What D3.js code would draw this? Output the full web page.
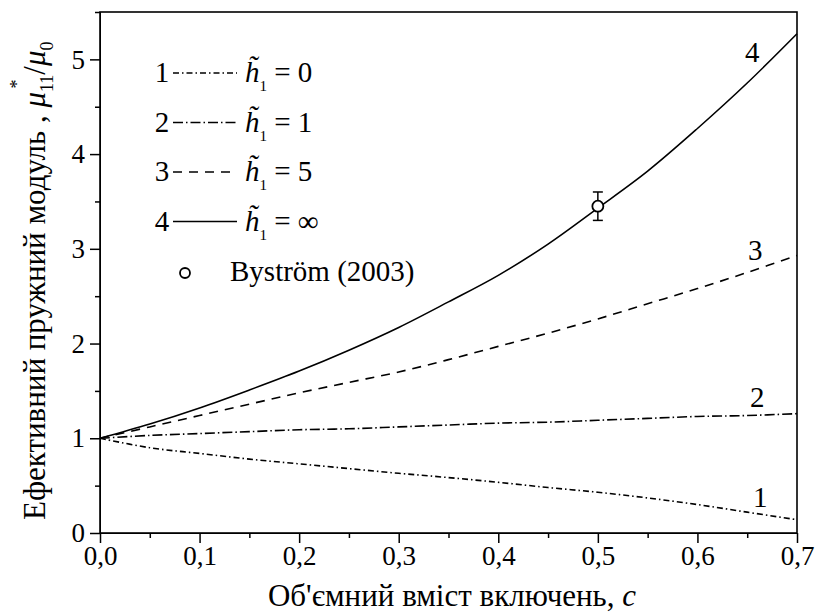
<!DOCTYPE html>
<html>
<head>
<meta charset="utf-8">
<script src="https://d3js.org/d3.v7.min.js"></script>
</head>
<body style="margin:0; background:#fff">
<svg width="816" height="614"></svg>
<script>
var svg = d3.select("svg");
var width = 816, height = 614;
var serif = "'Liberation Serif'";

// volume fraction c
var cValues = [0, 0.05, 0.1, 0.15, 0.2, 0.25, 0.3, 0.35, 0.4, 0.45, 0.5, 0.55, 0.6, 0.65, 0.7];
// mu11*/mu0 for each h1 value
var curve1 = [1.00, 0.90, 0.84, 0.78, 0.73, 0.68, 0.63, 0.585, 0.535, 0.48, 0.43, 0.37, 0.30, 0.22, 0.14];
var curve2 = [1.00, 1.03, 1.05, 1.07, 1.09, 1.10, 1.12, 1.14, 1.16, 1.17, 1.19, 1.21, 1.23, 1.24, 1.26];
var curve3 = [1.00, 1.12, 1.24, 1.36, 1.48, 1.59, 1.70, 1.83, 1.97, 2.11, 2.26, 2.42, 2.58, 2.75, 2.93];
var curve4 = [1.00, 1.15, 1.32, 1.51, 1.71, 1.93, 2.17, 2.44, 2.72, 3.05, 3.43, 3.82, 4.27, 4.75, 5.27];
var legendValues = ["0", "1", "5", "\u221E"];
// Byström (2003) experiment
var expC = [0.5];
var expVal = [3.45];
var expLow = [3.30];
var expHigh = [3.60];

var xTicks = [0, 0.1, 0.2, 0.3, 0.4, 0.5, 0.6, 0.7];
var xMinor = [0.05, 0.15, 0.25, 0.35, 0.45, 0.55, 0.65];
var yTicks = [0, 1, 2, 3, 4, 5];
var yMinor = [0.5, 1.5, 2.5, 3.5, 4.5, 5.5];

var margin = {left: 100, right: 19, top: 12, bottom: 81};
var x = d3.scaleLinear().domain([0, 0.7]).range([margin.left, width - margin.right]);
var y = d3.scaleLinear().domain([0, 5.5]).range([height - margin.bottom, margin.top]);

var fmt = function (d) { return d3.format(".1f")(d).replace(".", ","); };

// minor ticks
svg.append("g")
    .attr("transform", "translate(0," + y(0) + ")")
    .call(d3.axisBottom(x).tickValues(xMinor).tickSize(5).tickFormat(""))
    .call(function (g) { g.select(".domain").remove(); });
svg.append("g")
    .attr("transform", "translate(" + x(0) + ",0)")
    .call(d3.axisLeft(y).tickValues(yMinor).tickSize(5).tickFormat(""))
    .call(function (g) { g.select(".domain").remove(); });

svg.append("g")
    .attr("transform", "translate(0," + y(0) + ")")
    .call(d3.axisBottom(x).tickValues(xTicks).tickSize(10).tickPadding(3).tickFormat(fmt).tickSizeOuter(0));
svg.append("g")
    .attr("transform", "translate(" + x(0) + ",0)")
    .call(d3.axisLeft(y).tickValues(yTicks).tickSize(10).tickPadding(5).tickFormat(d3.format("d")).tickSizeOuter(0));

svg.selectAll(".tick text").attr("fill", "#000").style("font-size", "27px");
svg.selectAll(".tick line").attr("stroke-width", 1.5);

// frame
svg.append("rect")
    .attr("x", x(0)).attr("y", y(5.5))
    .attr("width", x(0.7) - x(0)).attr("height", y(0) - y(5.5))
    .attr("fill", "none").attr("stroke", "#000").attr("stroke-width", 1.6);

var series = [
    {id: "1", values: curve1, dash: "6,3,1.5,3"},
    {id: "2", values: curve2, dash: "10,3,1.5,3"},
    {id: "3", values: curve3, dash: "9,7"},
    {id: "4", values: curve4, dash: null}
];

var line = d3.line()
    .x(function (d, i) { return x(cValues[i]); })
    .y(function (d) { return y(d); })
    .curve(d3.curveCatmullRom);

svg.append("g")
    .selectAll("path")
    .data(series)
    .enter().append("path")
    .attr("d", function (d) { return line(d.values); })
    .attr("fill", "none")
    .attr("stroke", "#000")
    .attr("stroke-width", 1.6)
    .attr("stroke-dasharray", function (d) { return d.dash; });

// curve numbers near right end
var curveLabels = [
    {t: "1", c: 0.663, v: 0.27},
    {t: "2", c: 0.66, v: 1.33},
    {t: "3", c: 0.658, v: 2.88},
    {t: "4", c: 0.655, v: 4.97}
];
svg.append("g")
    .selectAll("text")
    .data(curveLabels)
    .enter().append("text")
    .attr("x", function (d) { return x(d.c); })
    .attr("y", function (d) { return y(d.v); })
    .attr("text-anchor", "middle")
    .style("font-size", "29px")
    .text(function (d) { return d.t; });

// experimental point
var exp = svg.append("g");
expC.forEach(function (c, i) {
    exp.append("line")
        .attr("x1", x(c)).attr("x2", x(c))
        .attr("y1", y(expLow[i])).attr("y2", y(expHigh[i]))
        .attr("stroke", "#000").attr("stroke-width", 1.5);
    [expLow[i], expHigh[i]].forEach(function (v) {
        exp.append("line")
            .attr("x1", x(c) - 5).attr("x2", x(c) + 5)
            .attr("y1", y(v)).attr("y2", y(v))
            .attr("stroke", "#000").attr("stroke-width", 1.5);
    });
    exp.append("circle")
        .attr("cx", x(c)).attr("cy", y(expVal[i])).attr("r", 5.5)
        .attr("fill", "#fff").attr("stroke", "#000").attr("stroke-width", 1.8);
});

// legend
var legend = svg.append("g");
series.forEach(function (s, i) {
    var ly = 73 + i * 49.5;
    legend.append("text")
        .attr("x", 162).attr("y", ly + 9)
        .attr("text-anchor", "middle")
        .style("font-size", "29px")
        .text(s.id);
    legend.append("line")
        .attr("x1", 173).attr("x2", 237)
        .attr("y1", ly).attr("y2", ly)
        .attr("stroke", "#000").attr("stroke-width", 1.3)
        .attr("stroke-dasharray", s.dash);
    var t = legend.append("text")
        .attr("x", 245).attr("y", ly + 9)
        .style("font-size", "29px");
    t.append("tspan").style("font-style", "italic").text("h\u0303");
    t.append("tspan").attr("dy", 9).style("font-size", "15px").text("1");
    t.append("tspan").attr("dy", -9).text(" = " + legendValues[i]);
});
legend.append("circle")
    .attr("cx", 185).attr("cy", 273).attr("r", 5)
    .attr("fill", "#fff").attr("stroke", "#000").attr("stroke-width", 1.8);
legend.append("text")
    .attr("x", 230).attr("y", 281)
    .style("font-size", "29px")
    .text("Byström (2003)");

// axis titles
var xt = svg.append("text")
    .attr("x", 452).attr("y", 606)
    .attr("text-anchor", "middle")
    .style("font-size", "31px");
xt.append("tspan").text("Об'ємний вміст включень, ");
xt.append("tspan").style("font-style", "italic").text("c");

var yl = svg.append("g").attr("transform", "translate(45,520) rotate(-90)");
var ylt = yl.append("text").attr("x", 0).attr("y", 0).style("font-size", "31px");
ylt.append("tspan").text("Ефективний пружний модуль , ");
ylt.append("tspan").style("font-style", "italic").text("\u03BC");
ylt.append("tspan").attr("dy", 8).style("font-size", "18px").text("11");
ylt.append("tspan").attr("dy", -8).text("/");
ylt.append("tspan").style("font-style", "italic").text("\u03BC");
ylt.append("tspan").attr("dy", 8).style("font-size", "18px").text("0");
var star = yl.append("text")
    .attr("y", -22)
    .attr("text-anchor", "middle")
    .style("font-size", "18px")
    .text("*");

// every text in the serif face
svg.selectAll("text, tspan").style("font-family", serif);

// star above the subscript, placed after the font is set
var pre = ylt.node().getSubStringLength(0, 29);
star.attr("x", pre + 8);
</script>
</body>
</html>
